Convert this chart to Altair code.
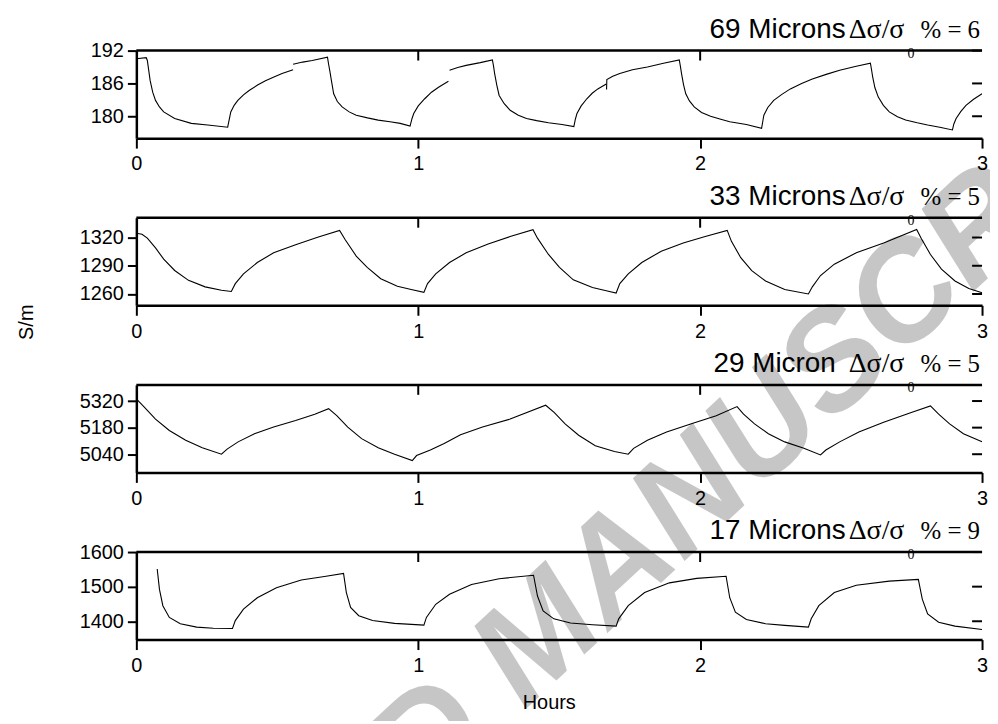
import altair as alt
import pandas as pd

# ---------------- data ----------------
hour_ticks = [0, 1, 2, 3]
top_ticks = [1, 2]

titles = ["69 Microns", "33 Microns", "29 Micron", "17 Microns"]
pct_values = ["6", "5", "5", "9"]

y_domains = [[176.0, 192.0], [1248.0, 1341.0], [4944.0, 5405.0], [1347.0, 1600.0]]
y_ticks = [[180, 186, 192], [1260, 1290, 1320], [5040, 5180, 5320], [1400, 1500, 1600]]

# 69 microns: four pieces of trace (the recording has small breaks)
p69_a = [(0.0, 190.5), (0.035, 190.7), (0.039, 190.2), (0.049, 186.5), (0.058, 184.4), (0.068, 182.9),
         (0.082, 181.7), (0.097, 180.8), (0.136, 179.6), (0.195, 178.7), (0.253, 178.4), (0.324, 178.0),
         (0.335, 180.8), (0.347, 182.0), (0.36, 182.9), (0.38, 183.9), (0.40, 184.7), (0.43, 185.7),
         (0.458, 186.5), (0.49, 187.2), (0.517, 187.8), (0.556, 188.5)]
p69_b = [(0.556, 189.5), (0.59, 189.9), (0.624, 190.2), (0.678, 190.8), (0.682, 189.5), (0.686, 188.4),
         (0.692, 186.5), (0.70, 184.1), (0.713, 182.7), (0.73, 181.7), (0.755, 180.8), (0.78, 180.2),
         (0.82, 179.7), (0.858, 179.3), (0.9, 179.0), (0.936, 178.7), (0.971, 178.2), (0.978, 179.6),
         (0.984, 180.5), (1.0, 181.9), (1.023, 183.2), (1.047, 184.4), (1.072, 185.3), (1.107, 186.4)]
p69_c = [(1.111, 188.4), (1.14, 188.9), (1.17, 189.3), (1.22, 189.8), (1.263, 190.3), (1.267, 189.2),
         (1.271, 187.8), (1.279, 185.6), (1.287, 183.8), (1.305, 182.3), (1.326, 181.1), (1.355, 180.2),
         (1.384, 179.6), (1.42, 179.2), (1.462, 178.8), (1.51, 178.5), (1.552, 178.1), (1.557, 179.4),
         (1.563, 180.5), (1.578, 181.9), (1.598, 183.2), (1.617, 184.2), (1.637, 185.0), (1.667, 185.9)]
p69_d = [(1.668, 184.9), (1.669, 186.7), (1.69, 187.3), (1.715, 187.8), (1.76, 188.5), (1.813, 189.0),
         (1.87, 189.7), (1.926, 190.3), (1.93, 189.1), (1.934, 187.8), (1.941, 185.8), (1.949, 184.1),
         (1.962, 182.8), (1.979, 181.7), (2.005, 180.7), (2.037, 180.0), (2.07, 179.5), (2.105, 179.0),
         (2.164, 178.5), (2.218, 177.8), (2.222, 179.0), (2.226, 180.2), (2.24, 181.6), (2.261, 182.9),
         (2.29, 184.0), (2.32, 185.0), (2.36, 186.0), (2.398, 186.8), (2.45, 187.7), (2.495, 188.4),
         (2.55, 189.1), (2.604, 189.7), (2.608, 188.5), (2.612, 187.2), (2.62, 185.2), (2.632, 183.5),
         (2.65, 182.0), (2.671, 180.8), (2.7, 179.9), (2.729, 179.3), (2.77, 178.8), (2.807, 178.4),
         (2.85, 178.0), (2.895, 177.5), (2.9, 178.6), (2.908, 179.6), (2.925, 180.9), (2.943, 182.0),
         (2.97, 183.1), (3.0, 184.1)]

p33 = [(0.0, 1324.5), (0.02, 1323.4), (0.039, 1319.3), (0.068, 1309.0), (0.097, 1297.0), (0.136, 1285.0),
       (0.185, 1274.5), (0.244, 1267.6), (0.302, 1264.0), (0.337, 1262.7), (0.351, 1271.0), (0.38, 1281.4),
       (0.429, 1293.4), (0.487, 1303.8), (0.565, 1312.4), (0.643, 1320.3), (0.721, 1327.6), (0.741, 1317.6),
       (0.78, 1300.3), (0.819, 1288.3), (0.867, 1276.2), (0.926, 1268.2), (0.975, 1264.8), (1.02, 1261.7),
       (1.033, 1271.0), (1.062, 1281.4), (1.111, 1293.4), (1.17, 1303.8), (1.248, 1313.1), (1.326, 1321.0),
       (1.407, 1328.3), (1.423, 1319.3), (1.462, 1302.0), (1.501, 1288.3), (1.55, 1275.1), (1.618, 1266.9),
       (1.667, 1263.4), (1.702, 1261.0), (1.715, 1271.0), (1.745, 1281.4), (1.793, 1293.4), (1.862, 1305.5),
       (1.94, 1314.1), (2.018, 1321.0), (2.096, 1327.6), (2.111, 1315.9), (2.144, 1298.6), (2.183, 1284.8),
       (2.232, 1273.8), (2.3, 1264.8), (2.384, 1260.0), (2.398, 1267.6), (2.427, 1279.6), (2.476, 1291.7),
       (2.554, 1303.8), (2.651, 1314.1), (2.768, 1328.6), (2.784, 1319.3), (2.817, 1302.0), (2.856, 1286.5),
       (2.904, 1273.8), (2.953, 1265.8), (3.0, 1261.3)]

p29 = [(0.0, 5332), (0.029, 5286), (0.068, 5225), (0.117, 5165), (0.175, 5114), (0.234, 5074), (0.302, 5040),
       (0.322, 5067), (0.361, 5105), (0.419, 5148), (0.487, 5183), (0.565, 5217), (0.633, 5251), (0.682, 5280),
       (0.711, 5243), (0.75, 5183), (0.799, 5122), (0.858, 5074), (0.916, 5040), (0.979, 5007), (0.994, 5033),
       (1.043, 5062), (1.092, 5097), (1.15, 5143), (1.228, 5183), (1.326, 5225), (1.452, 5298), (1.482, 5260),
       (1.521, 5200), (1.569, 5140), (1.628, 5085), (1.696, 5054), (1.745, 5040), (1.764, 5071), (1.813, 5114),
       (1.881, 5157), (1.969, 5200), (2.057, 5243), (2.131, 5291), (2.154, 5251), (2.193, 5200), (2.242, 5148),
       (2.3, 5105), (2.368, 5071), (2.427, 5036), (2.446, 5062), (2.495, 5105), (2.563, 5157), (2.651, 5208),
       (2.749, 5260), (2.817, 5294), (2.846, 5251), (2.885, 5200), (2.934, 5148), (3.0, 5105)]

p17 = [(0.074, 1551), (0.082, 1492), (0.094, 1445), (0.117, 1411), (0.156, 1393), (0.214, 1383), (0.273, 1380),
       (0.341, 1379), (0.351, 1402), (0.38, 1435), (0.429, 1468), (0.497, 1497), (0.585, 1519), (0.673, 1530),
       (0.735, 1538), (0.745, 1483), (0.76, 1440), (0.789, 1416), (0.838, 1402), (0.916, 1394), (1.02, 1389),
       (1.029, 1411), (1.062, 1449), (1.111, 1478), (1.189, 1506), (1.287, 1523), (1.409, 1533), (1.423, 1473),
       (1.443, 1430), (1.481, 1407), (1.54, 1395), (1.618, 1390), (1.702, 1386), (1.711, 1407), (1.745, 1445),
       (1.803, 1483), (1.891, 1511), (1.988, 1524), (2.092, 1530), (2.105, 1468), (2.125, 1426), (2.164, 1405),
       (2.232, 1393), (2.3, 1388), (2.384, 1383), (2.394, 1407), (2.421, 1445), (2.476, 1483), (2.554, 1504),
       (2.671, 1516), (2.774, 1521), (2.788, 1464), (2.807, 1421), (2.846, 1397), (2.904, 1386), (3.0, 1376)]

# ---------------- layout ----------------
W = 850
H = 88
SANS = "Liberation Sans"
SERIF = "Liberation Serif"


def frame_df(pieces):
    rows = []
    for k, piece in enumerate(pieces):
        for h, v in piece:
            rows.append({"h": h, "v": v, "seg": k})
    return pd.DataFrame(rows)


def panel(pieces, idx, name_x, extra=None):
    lo, hi = y_domains[idx]
    xsc = alt.Scale(domain=[0, 3], nice=False)
    ysc = alt.Scale(domain=[lo, hi], nice=False, zero=False)
    xaxis = alt.Axis(values=hour_ticks, format="d", title=None, grid=False,
                     domainWidth=2.5, domainColor="black", tickSize=10, tickWidth=2,
                     tickColor="black", labelFontSize=20, labelFont=SANS,
                     labelColor="black", labelPadding=6, labelFlush=False)
    yaxis = alt.Axis(values=y_ticks[idx], format="d", title=None, grid=False,
                     domainWidth=2.5, domainColor="black", tickSize=9, tickWidth=2,
                     tickColor="black", labelFontSize=20, labelFont=SANS,
                     labelColor="black", labelPadding=4)
    df = frame_df(pieces)

    line = alt.Chart(df).mark_line(color="black", strokeWidth=1.1, clip=True).encode(
        x=alt.X("h:Q", scale=xsc, axis=xaxis),
        y=alt.Y("v:Q", scale=ysc, axis=yaxis),
        detail="seg:N",
    )

    top_border = alt.Chart(pd.DataFrame({"a": [0]})).mark_rule(color="black", strokeWidth=2.5).encode(
        x=alt.value(0), x2=alt.value(W), y=alt.value(0))
    top_t = alt.Chart(pd.DataFrame({"h": top_ticks})).mark_rule(color="black", strokeWidth=2).encode(
        x=alt.X("h:Q", scale=xsc, axis=xaxis), y=alt.value(0), y2=alt.value(10))
    right_t = alt.Chart(pd.DataFrame({"v": y_ticks[idx]})).mark_rule(color="black", strokeWidth=2).encode(
        y=alt.Y("v:Q", scale=ysc, axis=yaxis), x=alt.value(W - 10), x2=alt.value(W))

    tdf = pd.DataFrame({"name": [titles[idx]], "sig": ["Δσ/σ"], "sub": ["0"],
                        "pct": ["% = " + pct_values[idx]]})
    t_name = alt.Chart(tdf).mark_text(align="right", baseline="alphabetic", font=SANS, fontSize=28,
                                      color="black").encode(
        x=alt.value(name_x), y=alt.value(-13), text="name:N")
    t_sig = alt.Chart(tdf).mark_text(align="left", baseline="alphabetic", font=SERIF, fontSize=28,
                                     color="black").encode(
        x=alt.value(716), y=alt.value(-13), text="sig:N")
    t_sub = alt.Chart(tdf).mark_text(align="left", baseline="alphabetic", font=SERIF, fontSize=14,
                                     color="#000000").encode(
        x=alt.value(775), y=alt.value(7), text="sub:N")
    t_pct = alt.Chart(tdf).mark_text(align="right", baseline="alphabetic", font=SERIF, fontSize=25,
                                     color="black").encode(
        x=alt.value(848), y=alt.value(-13), text="pct:N")

    layers = []
    if extra is not None:
        layers += extra
    layers += [line, top_border, top_t, right_t, t_name, t_sig, t_sub, t_pct]
    return alt.layer(*layers).properties(width=W, height=H)


watermark = alt.Chart(pd.DataFrame({"w": ["D MANUSCRI"]})).mark_text(
    font=SANS, fontSize=140, fontWeight="bold", fontStyle="italic", color="black", opacity=0.22,
    angle=317, align="center", baseline="middle").encode(
    x=alt.value(586), y=alt.value(423), text="w:N")

ylab = alt.Chart(pd.DataFrame({"s": ["S/m"]})).mark_text(
    font=SANS, fontSize=20, color="black", angle=270, align="center", baseline="middle").encode(
    x=alt.value(-110), y=alt.value(105), text="s:N")

xlab = alt.Chart(pd.DataFrame({"s": ["Hours"]})).mark_text(
    font=SANS, fontSize=20, color="black", align="center", baseline="middle").encode(
    x=alt.value(415), y=alt.value(152), text="s:N")

c1 = panel([p69_a, p69_b, p69_c, p69_d], 0, 713, extra=[watermark])
c2 = panel([p33], 1, 713, extra=[ylab])
c3 = panel([p29], 2, 703)
c4 = panel([p17], 3, 713, extra=[xlab])

chart = alt.vconcat(c1, c2, c3, c4, spacing=80, bounds="flush").properties(
    padding={"left": 9, "top": 6, "right": -103, "bottom": -108}
).configure_view(stroke=None)

chart.save("out.html", embed_options={"renderer": "svg", "actions": False})
